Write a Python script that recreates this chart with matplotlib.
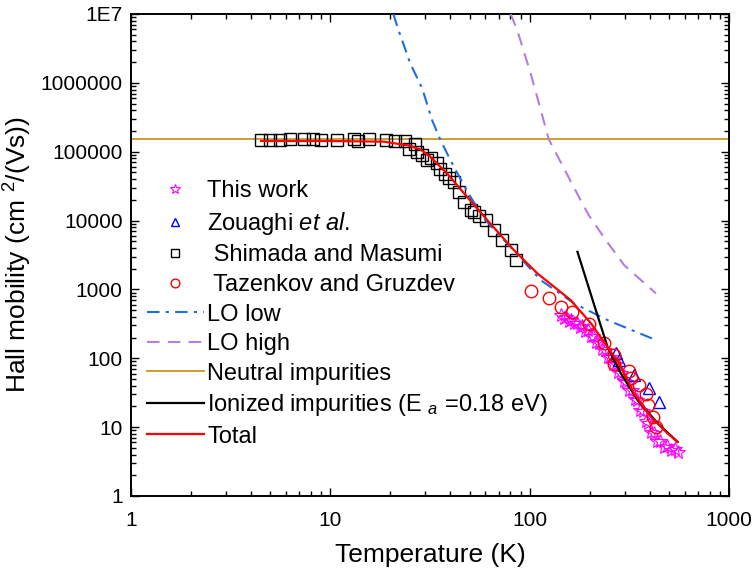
import numpy as np
import matplotlib
matplotlib.use("Agg")
import matplotlib.pyplot as plt

plt.rcParams["font.family"] = ["Liberation Sans", "DejaVu Sans"]
plt.rcParams["mathtext.fontset"] = "custom"
plt.rcParams["mathtext.rm"] = "Liberation Sans"
plt.rcParams["mathtext.it"] = "Liberation Sans:italic"

# ---------------- data ----------------
# This work (stars)
star_T = [143, 148, 152, 157, 162, 167, 172, 178, 184, 190, 196, 202, 209, 216,
          223, 230, 238, 246, 254, 262, 270, 279, 288, 297, 306, 316, 326, 336,
          347, 358, 370, 382, 394, 407, 421, 436, 452, 470, 490, 512, 535, 552]
star_mu = [424, 380, 395, 352, 365, 320, 330, 285, 290, 248, 255, 210, 212, 170,
           168, 135, 133, 104, 104, 82, 82, 64, 62, 47, 45, 35, 35, 26,
           25, 17.5, 17, 12.2, 11.6, 8.5, 8.2, 6.3, 6.2, 5.2, 5.3, 4.6, 4.8, 4.3]

# Zouaghi et al. (triangles)
zou_T = [270, 281, 334, 398, 447]
zou_mu = [118, 94, 57, 36.6, 23.4]

# Shimada and Masumi (squares)
shi_T = [4.5, 5.0, 5.6, 6.3, 7.4, 8.2, 9.0, 10.8, 13.1, 13.7, 15.6, 19.0, 21.0,
         23.7, 24.9, 26.5, 27.3, 28.9, 30.6, 32.0, 34.4, 35.7, 37.8, 39.3, 41.7,
         44.1, 46.8, 50.5, 52.5, 56.0, 60.1, 66.2, 72.9, 80.3, 85.1]
shi_mu = [1.5e5, 1.5e5, 1.5e5, 1.52e5, 1.55e5, 1.52e5, 1.5e5, 1.47e5, 1.52e5,
          1.42e5, 1.52e5, 1.47e5, 1.45e5, 1.42e5, 1.1e5, 1.3e5, 9.9e4, 9.1e4,
          7.5e4, 8.0e4, 6.9e4, 5.7e4, 4.8e4, 4.1e4, 3.65e4, 2.6e4, 1.87e4,
          1.42e4, 1.34e4, 1.15e4, 1.01e4, 7.3e3, 5.2e3, 3.7e3, 2.66e3]

# Tazenkov and Gruzdev (circles)
taz_T = [102, 125, 143, 164, 199, 236, 265, 265, 316, 322, 352, 383, 391, 417, 430]
taz_mu = [944, 740, 559, 473, 313, 165, 111, 82, 66, 51, 41, 30, 21, 14.2, 9.9]

# LO phonon, low
lo_low_T = [20.7, 22.0, 25.2, 28.9, 32.4, 35.7, 41.7, 50.5, 60.1, 80.3, 113.6,
            167, 246, 430]
lo_low_mu = [1.0e7, 5.8e6, 1.9e6, 8.3e5, 2.87e5, 1.47e5, 6.0e4, 2.2e4, 1.01e4,
             4.1e3, 1365, 627, 358, 184]

# LO phonon, high
lo_high_T = [80.3, 86.7, 101.2, 111.4, 124.6, 164.4, 197.8, 241, 298, 430]
lo_high_mu = [1.0e7, 5.8e6, 1.36e6, 5.0e5, 1.52e5, 3.27e4, 1.2e4, 5.2e3, 2.25e3, 875]

# neutral impurities (constant)
neutral_mu = 1.52e5

# ionized impurities
ion_T = [173.7, 214.7, 245.7, 286.6, 347.7, 438.5, 552]
ion_mu = [3515, 501, 147, 60.4, 24.7, 11.4, 6.1]

# total
tot_T = [4.5, 10, 18.5, 24.4, 28.3, 31.8, 38.6, 48.6, 61.4, 83.5, 109.5, 160.6,
         202.6, 245.7, 286.6, 334, 405, 492, 552]
tot_mu = [1.43e5, 1.43e5, 1.4e5, 1.24e5, 1.08e5, 8.4e4, 4.8e4, 2.2e4, 1.01e4,
          3.7e3, 1.7e3, 700, 324, 147, 75.3, 30.9, 14.2, 8.1, 6.1]

y_ticks = [1, 10, 100, 1000, 10000, 100000, 1000000, 1e7]
y_tick_labels = ["1", "10", "100", "1000", "10000", "100000", "1000000", "1E7"]
x_ticks = [1, 10, 100, 1000]
x_tick_labels = ["1", "10", "100", "1000"]

# ---------------- plot ----------------
fig = plt.figure(figsize=(7.52, 5.69), dpi=100)
ax = fig.add_axes([0.1742, 0.1283, 0.7952, 0.8471])

h_neu = ax.axhline(neutral_mu, color="#C8961E", lw=1.3, zorder=1,
                   label="Neutral impurities")
h_shi, = ax.plot(shi_T, shi_mu, ls="none", marker="s", ms=8, mfc="none",
                 mec="black", mew=1.0, zorder=2, label=" Shimada and Masumi")
h_low, = ax.plot(lo_low_T, lo_low_mu, color="#1E6FDC", ls=(0, (6, 3, 1.5, 3)),
                 lw=1.5, zorder=3, label="LO low")
h_high, = ax.plot(lo_high_T, lo_high_mu, color="#B07FE0", ls=(0, (6, 4)),
                  lw=1.5, zorder=3, label="LO high")
h_star, = ax.plot(star_T, star_mu, ls="none", marker="*", ms=10, mfc="none",
                  mec="#FF00FF", mew=0.8, zorder=4, label="This work")
h_zou, = ax.plot(zou_T, zou_mu, ls="none", marker="^", ms=9, mfc="none",
                 mec="#0000FF", mew=1.0, zorder=5, label="Zouaghi $\\it{et\\ al.}$")
h_taz, = ax.plot(taz_T, taz_mu, ls="none", marker="o", ms=9, mfc="none",
                 mec="#FF0000", mew=1.0, zorder=5, label=" Tazenkov and Gruzdev")
h_ion, = ax.plot(ion_T, ion_mu, color="black", lw=1.6, zorder=6,
                 label="Ionized impurities (E $_{a}$ =0.18 eV)")
h_tot, = ax.plot(tot_T, tot_mu, color="#FF0000", lw=1.6, zorder=7, label="Total")

ax.set_xscale("log")
ax.set_yscale("log")
ax.set_xlim(1, 1000)
ax.set_ylim(1, 1e7)
ax.set_xticks(x_ticks, x_tick_labels)
ax.set_yticks(y_ticks, y_tick_labels)
ax.tick_params(which="both", direction="in", top=True, right=True, width=1.0,
               labelsize=15)
ax.tick_params(axis="x", which="major", pad=11)
ax.tick_params(axis="y", which="major", pad=6)
ax.tick_params(which="major", length=6)
ax.tick_params(which="minor", length=3.5)
for sp in ax.spines.values():
    sp.set_linewidth(1.4)

ax.set_xlabel("Temperature (K)", fontsize=19, labelpad=9)
ax.set_ylabel("Hall mobility (cm $^{2}$/(Vs))", fontsize=19, labelpad=5)

handles = [h_star, h_zou, h_shi, h_taz, h_low, h_high, h_neu, h_ion, h_tot]
ax.legend(handles=handles, loc="upper left", bbox_to_anchor=(0.027, 0.655),
          frameon=False, fontsize=17, borderpad=0, borderaxespad=0,
          handlelength=2.4, handletextpad=0.15, labelspacing=0.32,
          markerscale=0.7)

fig.savefig("out.png", dpi=100)
